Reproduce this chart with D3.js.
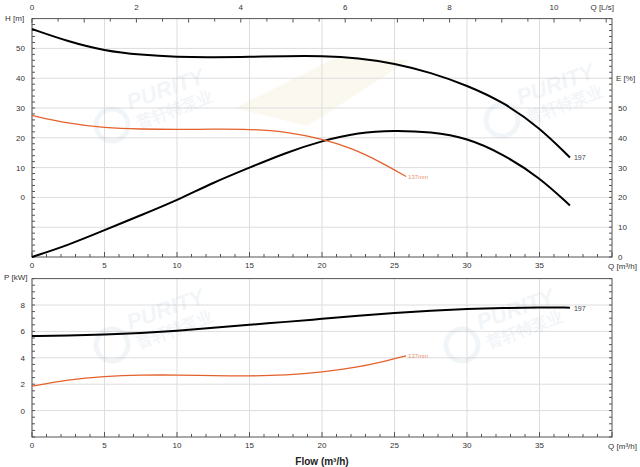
<!DOCTYPE html>
<html><head><meta charset="utf-8">
<script src="https://cdn.jsdelivr.net/npm/d3@7"></script>
<style>body{margin:0;background:#fff}text{font-family:"Liberation Sans",Arial,sans-serif}</style>
</head><body><svg id="c" width="640" height="467"></svg>
<script>
// Data
const hQ = [0,2.5,5,7.5,10,12.5,15,17.5,20,22.5,25,27.5,30,32.5,35,37.1];
const h197 = [56.5,52.3,49.2,47.8,47.1,47.0,47.2,47.4,47.5,46.8,45.0,41.9,37.6,32.0,23.5,13.4];
const h137Q = [0,2.5,5,7.5,10,12.5,15,17.5,20,22,24,25.8];
const h137 = [27.5,24.8,23.3,22.9,22.8,22.9,22.9,22.1,19.6,16.6,12.0,7.0];
const eQ = [0,2.5,5,7.5,10,12.5,15,17.5,20,22.5,25,27.5,30,32.5,35,37.1];
const eff = [0,4,9,14,19,25,30,35,39,41.8,42.5,42,40,34.5,26.7,17.3];
const pQ = [0,2.5,5,7.5,10,12.5,15,17.5,20,22.5,25,27.5,30,32.5,35,37.1];
const p197 = [5.65,5.67,5.75,5.88,6.05,6.27,6.5,6.72,6.95,7.18,7.4,7.56,7.7,7.78,7.82,7.8];
const p137Q = [0,2.5,5,7.5,10,12.5,15,17.5,20,22.5,24,25.8];
const p137 = [1.85,2.35,2.6,2.7,2.7,2.65,2.62,2.68,2.9,3.3,3.65,4.15];
const xTicks = [0,5,10,15,20,25,30,35];
const lsTicks = [0,2,4,6,8,10];
const hTicks = [0,10,20,30,40,50];
const eTicks = [0,10,20,30,40,50];
const pTicks = [0,2,4,6,8];

const svg = d3.select("#c");
const L=32, R=612;
const x = d3.scaleLinear().domain([0,40]).range([L,R]);
const xls = d3.scaleLinear().domain([0,40/3.6]).range([L,R]);
const yH = d3.scaleLinear().domain([-20,60]).range([257,18.6]);
const yE = d3.scaleLinear().domain([0,80]).range([257,18.6]);
const yP = d3.scaleLinear().domain([-2,10]).range([437,278.6]);
const axisCol="#555", gridCol="#ddd";

function wm(cx,cy){
  const g=svg.append("g").attr("transform",`translate(${cx},${cy}) rotate(-20)`).attr("opacity",0.08);
  g.append("text").attr("x",0).attr("y",0).attr("font-size",22).attr("font-weight","bold").attr("fill","#6a8fb5").attr("font-style","italic").text("PURITY");
  g.append("text").attr("x",2).attr("y",20).attr("font-size",16).attr("font-weight","bold").attr("fill","#6a8fb5").attr("font-family","Noto Sans CJK SC").text("普轩特泵业");
  g.append("circle").attr("cx",-22).attr("cy",8).attr("r",16).attr("fill","none").attr("stroke","#6a8fb5").attr("stroke-width",5);
}
svg.append("path").attr("d",`M${x(14)},${yH(30)} L${x(21)},${yH(47)} L${x(26)},${yH(46)} L${x(19)},${yH(24)} Z`).attr("fill","#f8f4e4").attr("opacity",0.6);

function grid(y, vals){
  svg.append("g").selectAll("line").data(xTicks).join("line")
    .attr("x1",d=>x(d)).attr("x2",d=>x(d)).attr("y1",y.range()[1]).attr("y2",y.range()[0]).attr("stroke",gridCol);
  svg.append("g").selectAll("line").data(vals).join("line")
    .attr("x1",L).attr("x2",R).attr("y1",d=>y(d)).attr("y2",d=>y(d)).attr("stroke",gridCol);
}
grid(yH,[-10,0,10,20,30,40,50]);
grid(yP,[0,2,4,6,8]);
wm(130,110); wm(520,105); wm(130,330); wm(480,330);

function frame(y){
  const [b,t]=y.range();
  svg.append("rect").attr("x",L).attr("y",t).attr("width",R-L).attr("height",b-t).attr("fill","none").attr("stroke",axisCol);
  svg.append("g").selectAll("line").data(d3.range(0,41,1)).join("line")
    .attr("x1",d=>x(d)).attr("x2",d=>x(d)).attr("y1",b).attr("y2",d=>b-(d%5===0?5:3)).attr("stroke",axisCol);
}
frame(yH); frame(yP);
svg.append("g").selectAll("line").data(d3.range(0,11.2,0.5)).join("line")
  .attr("x1",d=>xls(d)).attr("x2",d=>xls(d)).attr("y1",18.6).attr("y2",d=>18.6+(Math.abs(d%1)<1e-6?4:3)).attr("stroke",axisCol);
svg.append("g").selectAll("text").data(lsTicks).join("text").attr("x",d=>xls(d)).attr("y",10).attr("text-anchor","middle").attr("font-size",8).attr("fill","#333").text(d=>d);
svg.append("text").attr("x",R+2).attr("y",10).attr("text-anchor","end").attr("font-size",8).attr("fill","#333").text("Q [L/s]");
svg.append("g").selectAll("line").data(d3.range(-20,61,2)).join("line").attr("x1",L).attr("x2",L+3).attr("y1",d=>yH(d)).attr("y2",d=>yH(d)).attr("stroke",axisCol);
svg.append("g").selectAll("line").data(d3.range(0,81,2)).join("line").attr("x1",R).attr("x2",R-3).attr("y1",d=>yE(d)).attr("y2",d=>yE(d)).attr("stroke",axisCol);
svg.append("g").selectAll("line").data(d3.range(-2,10.1,0.5)).join("line").attr("x1",L).attr("x2",L+3).attr("y1",d=>yP(d)).attr("y2",d=>yP(d)).attr("stroke",axisCol);
svg.append("g").selectAll("line").data(d3.range(-2,10.1,0.5)).join("line").attr("x1",R).attr("x2",R-3).attr("y1",d=>yP(d)).attr("y2",d=>yP(d)).attr("stroke",axisCol);

const lab=(sel)=>sel.attr("font-size",8).attr("fill","#333");
lab(svg.append("g").selectAll("text").data(hTicks).join("text").attr("x",L-7).attr("y",d=>yH(d)+3).attr("text-anchor","end").text(d=>d));
lab(svg.append("g").selectAll("text").data(eTicks).join("text").attr("x",R+6).attr("y",d=>yE(d)+3).text(d=>d));
lab(svg.append("g").selectAll("text").data(pTicks).join("text").attr("x",L-7).attr("y",d=>yP(d)+3).attr("text-anchor","end").text(d=>d));
lab(svg.append("text").attr("x",5).attr("y",21).text("H [m]"));
lab(svg.append("text").attr("x",616).attr("y",81).text("E [%]"));
lab(svg.append("text").attr("x",4).attr("y",280).text("P [kW]"));
[257,437].forEach(b=>{
  lab(svg.append("g").selectAll("text").data(xTicks).join("text").attr("x",d=>x(d)).attr("y",b+11).attr("text-anchor","middle").text(d=>d));
  lab(svg.append("text").attr("x",637).attr("y",b+12).attr("text-anchor","end").text("Q [m³/h]"));
});
svg.append("text").attr("x",322).attr("y",465).attr("text-anchor","middle").attr("font-size",10).attr("font-weight","bold").attr("fill","#222").text("Flow (m³/h)");

function curve(xs,ys,y,col,w){
  const line=d3.line().x((d,i)=>x(xs[i])).y((d)=>y(d)).curve(d3.curveBasis);
  svg.append("path").attr("d",line(ys)).attr("fill","none").attr("stroke",col).attr("stroke-width",w);
}
const OR="#e4612c";
curve(hQ,h197,yH,"#000",2);
curve(eQ,eff,yE,"#000",2);
curve(h137Q,h137,yH,OR,1.3);
curve(pQ,p197,yP,"#000",2);
curve(p137Q,p137,yP,OR,1.3);
svg.append("text").attr("x",x(37.1)+4).attr("y",yH(13.4)+3).attr("font-size",7).attr("fill","#444").text("197");
svg.append("text").attr("x",x(37.1)+4).attr("y",yP(7.8)+3).attr("font-size",7).attr("fill","#444").text("197");
svg.append("text").attr("x",x(25.8)+2).attr("y",yH(7)+2).attr("font-size",6).attr("fill",OR).attr("opacity",0.7).text("137mm");
svg.append("text").attr("x",x(25.8)+2).attr("y",yP(4.15)+2).attr("font-size",6).attr("fill",OR).attr("opacity",0.7).text("137mm");
</script></body></html>
